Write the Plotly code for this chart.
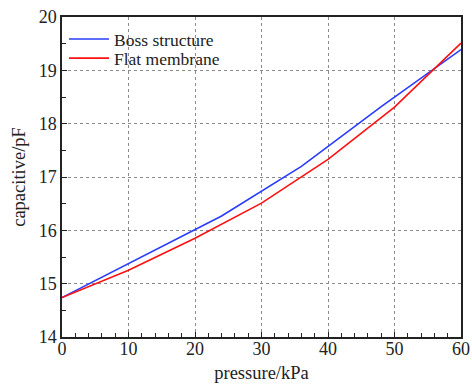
import plotly.graph_objects as go

boss_x = [0, 12, 24, 36, 48, 60]
boss_y = [14.74, 15.50, 16.27, 17.20, 18.32, 19.39]
flat_x = [0, 10, 20, 30, 40, 50, 60]
flat_y = [14.74, 15.25, 15.85, 16.51, 17.33, 18.31, 19.51]

font_family = "Liberation Serif"

fig = go.Figure()
fig.add_trace(go.Scatter(x=boss_x, y=boss_y, mode="lines", name="Boss structure",
                         line=dict(color="#2a3cff", width=1.6), legend="legend"))
fig.add_trace(go.Scatter(x=flat_x, y=flat_y, mode="lines", name="Flat membrane",
                         line=dict(color="#ff1010", width=1.6), legend="legend2"))

axis_common = dict(
    showline=True, linecolor="#222", linewidth=1.5, mirror=True,
    ticks="inside", tickcolor="#222", ticklen=5, tickwidth=1.2,
    showgrid=True, gridcolor="#8a8a8a", gridwidth=1, griddash="dot",
    zeroline=False, automargin=False,
    tickfont=dict(family=font_family, size=18, color="#222"),
)

fig.update_xaxes(range=[0, 60], tick0=0, dtick=10, ticklabelstandoff=-5,
                 minor=dict(ticks="inside", ticklen=4, dtick=2, tickcolor="#222", showgrid=False),
                 title=dict(text="pressure/kPa", font=dict(family=font_family, size=18.5, color="#222"), standoff=8),
                 **axis_common)
fig.update_yaxes(range=[14, 20], tick0=14, dtick=1,
                 minor=dict(ticks="inside", ticklen=4, dtick=0.5, tickcolor="#222", showgrid=False),
                 title=dict(text="capacitive/pF", font=dict(family=font_family, size=18.5, color="#222"), standoff=8),
                 **axis_common)

leg_common = dict(xanchor="left", yanchor="middle", x=0.005,
                  bgcolor="rgba(0,0,0,0)", borderwidth=0,
                  font=dict(family=font_family, size=17.5, color="#222"),
                  itemwidth=40)

fig.update_layout(
    width=472, height=386,
    margin=dict(l=62, r=11, t=17, b=49),
    paper_bgcolor="white", plot_bgcolor="white",
    font=dict(family=font_family, size=18, color="#222"),
    showlegend=True,
    legend=dict(y=0.931, **leg_common),
    legend2=dict(y=0.871, **leg_common),
)

fig.write_html("out.html")
